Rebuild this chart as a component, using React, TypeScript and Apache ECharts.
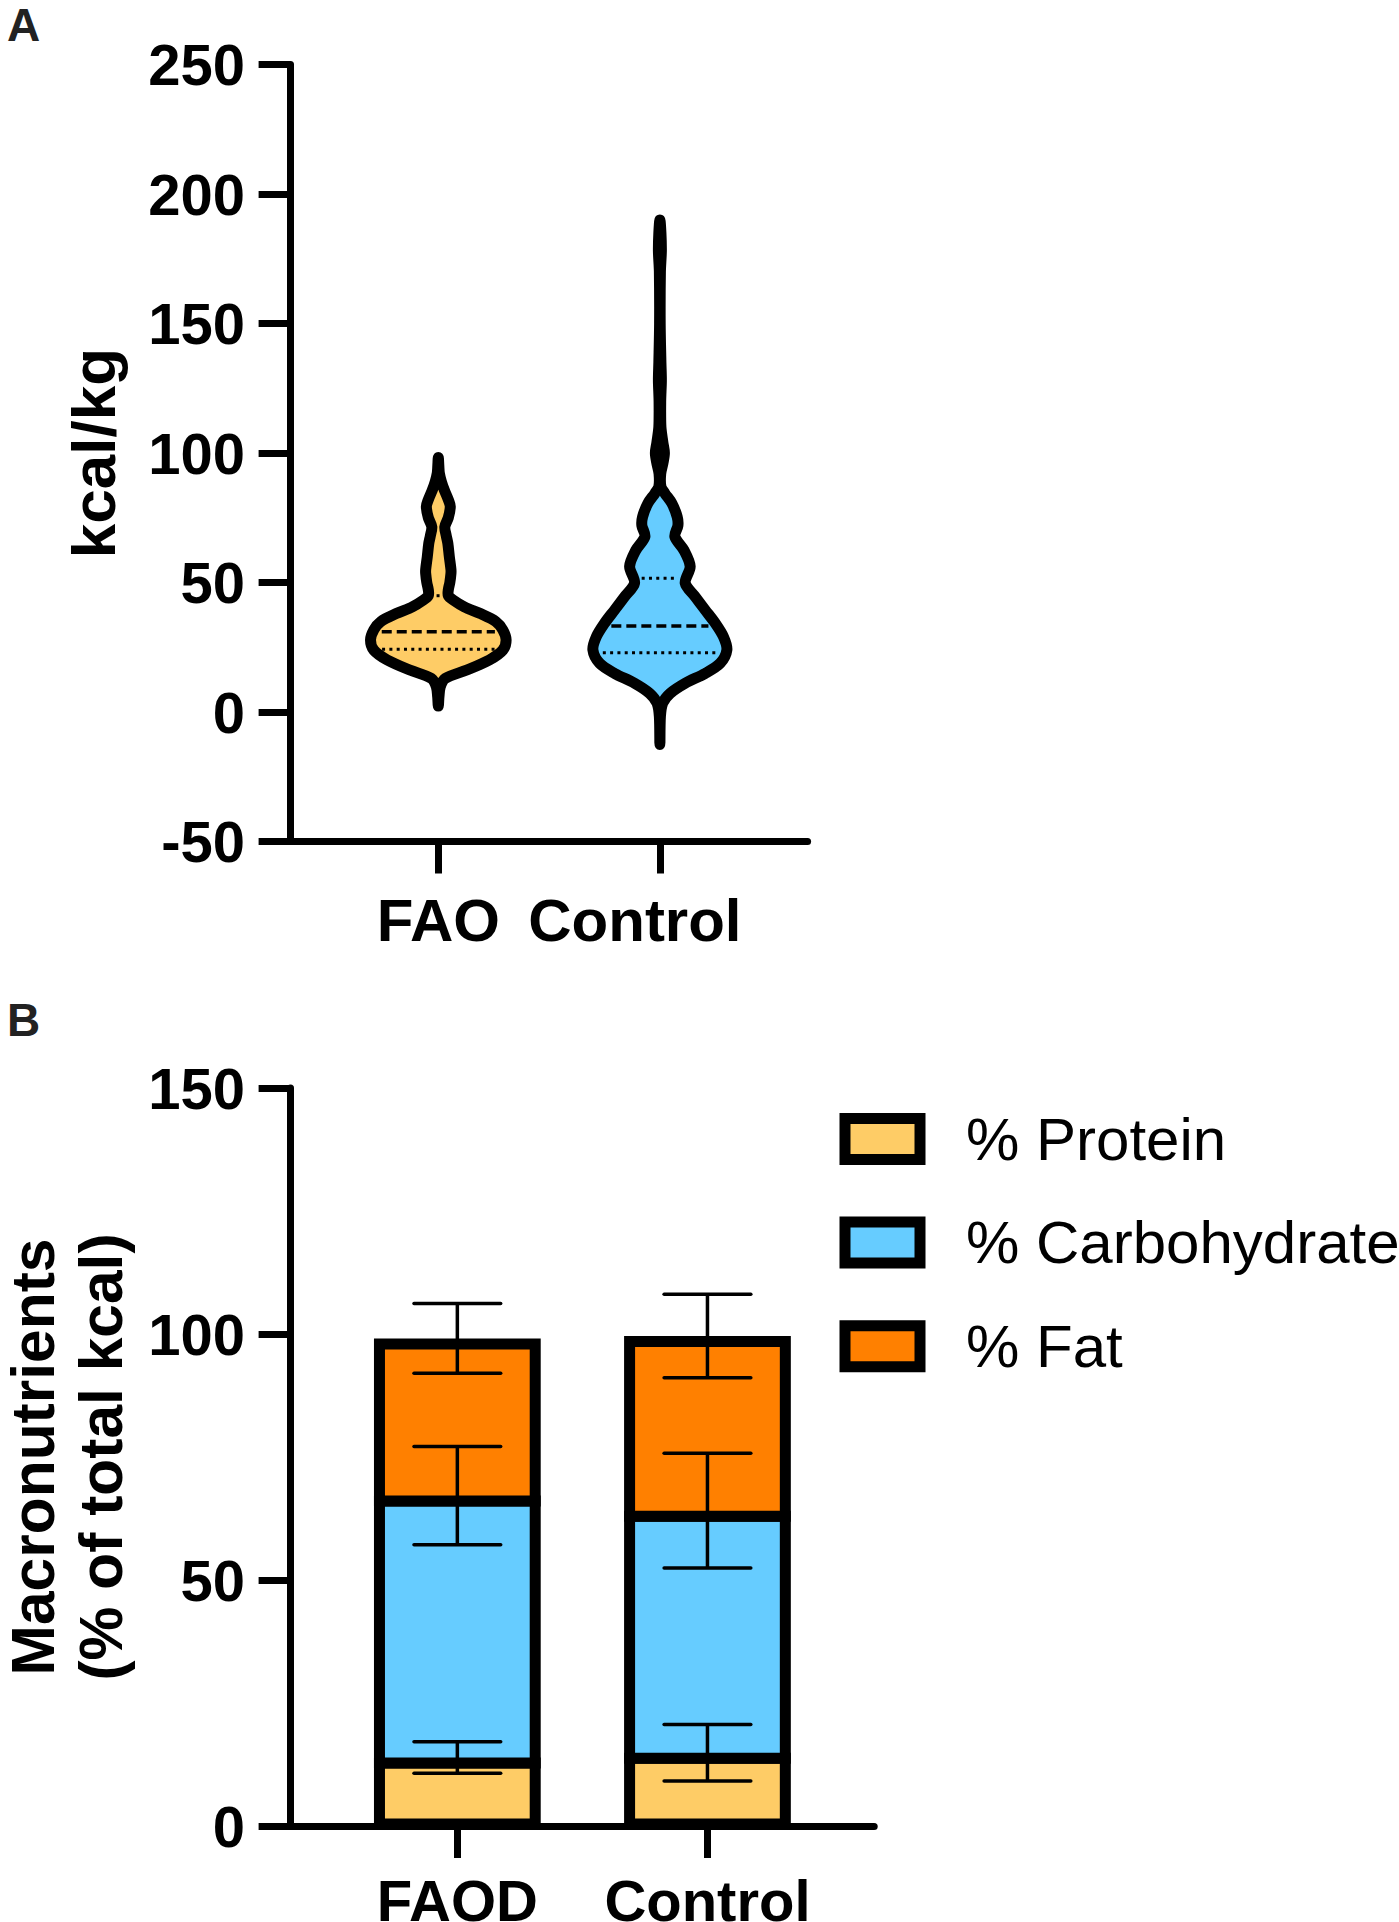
import React, { useEffect, useRef } from 'react';
import * as echarts from 'echarts';

// ---------------- Panel A: energy intake violins (kcal/kg) ----------------
const violinCategories = ['FAO', 'Control'];
// density outline read from top to bottom: value (kcal/kg) and half-width (x-axis units)
const faoOutlineValues = [98.3, 95, 92.2, 89, 85.7, 82, 79.3, 75, 71.5, 68, 65.1, 60, 55, 53.5, 50, 47.1, 45, 43.2, 40.6, 38, 34.9, 31.7, 27.8, 23.9, 20.1, 16.2, 13, 9.8, 6, 2.3];
const faoOutlineHalfWidths = [0, 0.07, 0.14, 0.41, 0.81, 1.35, 1.62, 1.35, 0.88, 1.08, 1.29, 1.49, 1.71, 1.71, 1.56, 1.35, 1.35, 2.03, 3.52, 5.69, 7.79, 8.73, 9.18, 8.73, 6.91, 3.86, 0.95, 0.27, 0.09, 0];
const controlOutlineValues = [190, 185, 178, 170, 150, 135, 128, 120, 110, 104, 100, 96, 92, 87, 84.4, 80.6, 75.4, 72, 67.7, 62.5, 56.2, 49.8, 44.5, 39.4, 34.3, 29.1, 24, 18.8, 14.9, 11.1, 7.2, 3.4, -1.8, -12.5];
const controlOutlineHalfWidths = [0, 0.14, 0.2, 0.07, 0.04, 0.14, 0.2, 0.11, 0.14, 0.41, 0.61, 0.41, 0.11, 0.14, 0.68, 1.62, 2.34, 2.44, 2.03, 3.25, 4.1, 3.43, 4.78, 6.13, 7.49, 8.6, 9.07, 8.16, 6.13, 3.43, 1.39, 0.38, 0.07, 0];
// Q1, median, Q3
const faoQuartiles = [24.2, 31.0, 44.9];
const controlQuartiles = [22.9, 33.2, 51.6];
const kcalTicks = [-50, 0, 50, 100, 150, 200, 250];

// ---------------- Panel B: macronutrient distribution (% of total kcal) ----------------
const macroCategories = ['FAOD', 'Control'];
const macroNames = ['% Protein', '% Carbohydrate', '% Fat'];
const proteinPct = [13.9, 14.9];
const proteinSd = [3.2, 5.75];
const carbPct = [53.25, 49.2];
const carbSd = [10.0, 11.65];
const fatPct = [31.95, 35.5];
const fatSd = [7.1, 8.5];
const macroTicks = [0, 50, 100, 150];

// ---------------- styles / layout ----------------
const FONT = '"Liberation Sans", Arial, Helvetica, sans-serif';
const BLACK = '#000000';
const YELLOW = '#FECC66';
const BLUE = '#66CCFF';
const ORANGE = '#FF8000';
const SLOT = [20, 50];
const X_MIN = 0;
const X_MAX = 70;
const AXIS_LW = 7;
const VIOLIN_LW = 11;
const BAR_LW = 11;
const ERR_LW = 3.5;
const BAR_HALF = 10;
const CAP_HALF = 5.2;

function interpHalfWidth(vals: number[], hws: number[], q: number) {
  for (let i = 0; i < vals.length - 1; i++) {
    if (vals[i] >= q && q >= vals[i + 1]) {
      const t = (vals[i] - q) / (vals[i] - vals[i + 1]);
      return hws[i] + t * (hws[i + 1] - hws[i]);
    }
  }
  return 0;
}

function makeViolin(vals: number[], hws: number[], quart: number[], fill: string) {
  return (params: any, api: any) => {
    const cx = api.value(0);
    const pts: number[][] = [];
    for (let i = 0; i < vals.length; i++) pts.push(api.coord([cx + hws[i], vals[i]]));
    for (let i = vals.length - 2; i >= 1; i--) pts.push(api.coord([cx - hws[i], vals[i]]));
    const children: any[] = [
      {
        type: 'polygon',
        shape: { points: pts, smooth: 0.3 },
        style: { fill, stroke: BLACK, lineWidth: VIOLIN_LW, lineJoin: 'round' },
        z2: 1,
      },
    ];
    quart.forEach((q, k) => {
      const hw = interpHalfWidth(vals, hws, q);
      const c = api.coord([cx, q]);
      const r = api.coord([cx + hw, q]);
      const half = Math.max(0, r[0] - c[0] - VIOLIN_LW / 2 - 3);
      children.push({
        type: 'line',
        shape: { x1: c[0] - half, y1: c[1], x2: c[0] + half, y2: c[1] },
        style: {
          stroke: BLACK,
          lineWidth: k === 1 ? 3.5 : 3,
          lineDash: k === 1 ? [10, 5] : [3, 4.3],
        },
        z2: 2,
      });
    });
    return { type: 'group', children };
  };
}

function makeSegment(fill: string) {
  return (params: any, api: any) => {
    const cx = api.value(0);
    const base = api.value(1);
    const top = api.value(2);
    const pL = api.coord([cx - BAR_HALF, top]);
    const pR = api.coord([cx + BAR_HALF, base]);
    const zeroY = api.coord([cx, 0])[1];
    const x1 = pL[0] + BAR_LW / 2;
    const x2 = pR[0] - BAR_LW / 2;
    const y1 = pL[1] + BAR_LW / 2;
    const y2 = base === 0 ? zeroY - 2 : pR[1] + BAR_LW / 2;
    return {
      type: 'rect',
      shape: { x: x1, y: y1, width: x2 - x1, height: y2 - y1 },
      style: { fill, stroke: BLACK, lineWidth: BAR_LW },
    };
  };
}

function renderErrorBar(params: any, api: any) {
  const cx = api.value(0);
  const m = api.value(1);
  const sd = api.value(2);
  const hi = api.coord([cx, m + sd]);
  const lo = api.coord([cx, m - sd]);
  const l = api.coord([cx - CAP_HALF, m])[0];
  const r = api.coord([cx + CAP_HALF, m])[0];
  const st = { stroke: BLACK, lineWidth: ERR_LW, lineCap: 'round' };
  return {
    type: 'group',
    children: [
      { type: 'line', shape: { x1: hi[0], y1: hi[1], x2: lo[0], y2: lo[1] }, style: { stroke: BLACK, lineWidth: ERR_LW } },
      { type: 'line', shape: { x1: l, y1: hi[1], x2: r, y2: hi[1] }, style: st },
      { type: 'line', shape: { x1: l, y1: lo[1], x2: r, y2: lo[1] }, style: st },
    ],
  };
}

const axisLineStyle = { color: BLACK, width: AXIS_LW };
const tickLabelStyle = { fontSize: 58, fontWeight: 'bold' as const, color: BLACK, fontFamily: FONT };
const catLabelStyleA = { fontSize: 60, fontWeight: 'bold' as const, color: BLACK, fontFamily: FONT };
const catLabelStyleB = { fontSize: 58, fontWeight: 'bold' as const, color: BLACK, fontFamily: FONT };

function buildOption() {
  const carbTop = carbPct.map((c, i) => proteinPct[i] + c);
  const fatTop = fatPct.map((f, i) => carbTop[i] + f);
  const errData: number[][] = [];
  SLOT.forEach((s, i) => {
    errData.push([s, proteinPct[i], proteinSd[i]]);
    errData.push([s, carbTop[i], carbSd[i]]);
    errData.push([s, fatTop[i], fatSd[i]]);
  });
  const macroColors = [YELLOW, BLUE, ORANGE];

  return {
    animation: false,
    textStyle: { fontFamily: FONT },
    graphic: [
      { type: 'text', left: 7, top: 2, style: { text: 'A', fontSize: 46, fontWeight: 'bold', fill: '#222', fontFamily: FONT } },
      { type: 'text', left: 7, top: 997, style: { text: 'B', fontSize: 46, fontWeight: 'bold', fill: '#222', fontFamily: FONT } },
    ],
    legend: {
      data: macroNames.map((n, i) => ({
        name: n,
        icon: 'rect',
        itemStyle: { color: macroColors[i], borderColor: BLACK, borderWidth: BAR_LW },
      })),
      orient: 'vertical',
      left: 839.5,
      top: 1109,
      itemWidth: 75,
      itemHeight: 41,
      itemGap: 43.6,
      padding: 0,
      selectedMode: false,
      textStyle: { fontSize: 60, color: BLACK, fontFamily: FONT, lineHeight: 60, padding: [0, 0, 0, 41] },
    },
    grid: [
      { left: 290.6, top: 64.5, width: 517, height: 777, containLabel: false, outerBoundsMode: 'none' },
      { left: 290.6, top: 1088, width: 583.6, height: 738, containLabel: false, outerBoundsMode: 'none' },
    ],
    xAxis: [
      {
        type: 'value',
        gridIndex: 0,
        min: X_MIN,
        max: X_MAX,
        axisLine: { show: true, onZero: false, lineStyle: axisLineStyle },
        axisTick: { show: true, length: 32, lineStyle: axisLineStyle, customValues: SLOT },
        splitLine: { show: false },
        axisLabel: {
          ...catLabelStyleA,
          margin: 49,
          customValues: SLOT,
          formatter: (v: number) => {
            const i = SLOT.indexOf(v);
            if (i < 0) return '';
            return i === 1 ? '{shift|' + violinCategories[i] + '}' : violinCategories[i];
          },
          rich: { shift: { ...catLabelStyleA, padding: [0, 50, 0, 0] } },
        },
      },
      {
        type: 'value',
        gridIndex: 1,
        min: X_MIN,
        max: X_MAX,
        axisLine: { show: true, onZero: false, lineStyle: axisLineStyle },
        axisTick: { show: true, length: 32, lineStyle: axisLineStyle, customValues: SLOT },
        splitLine: { show: false },
        axisLabel: {
          ...catLabelStyleB,
          margin: 45,
          customValues: SLOT,
          formatter: (v: number) => {
            const i = SLOT.indexOf(v);
            return i < 0 ? '' : macroCategories[i];
          },
        },
      },
    ],
    yAxis: [
      {
        type: 'value',
        gridIndex: 0,
        min: kcalTicks[0],
        max: kcalTicks[kcalTicks.length - 1],
        interval: kcalTicks[1] - kcalTicks[0],
        axisLine: { show: true, onZero: false, lineStyle: axisLineStyle },
        axisTick: { show: true, length: 32, lineStyle: axisLineStyle },
        splitLine: { show: false },
        axisLabel: { ...tickLabelStyle, margin: 45.5 },
        name: 'kcal/kg',
        nameLocation: 'middle',
        nameRotate: 90,
        nameGap: 166,
        nameTextStyle: { fontSize: 62, fontWeight: 'bold', color: BLACK, fontFamily: FONT, lineHeight: 62 },
      },
      {
        type: 'value',
        gridIndex: 1,
        min: macroTicks[0],
        max: macroTicks[macroTicks.length - 1],
        interval: macroTicks[1] - macroTicks[0],
        axisLine: { show: true, onZero: false, lineStyle: axisLineStyle },
        axisTick: { show: true, length: 32, lineStyle: axisLineStyle },
        splitLine: { show: false },
        axisLabel: { ...tickLabelStyle, margin: 45.5 },
        name: 'Macronutrients\n(% of total kcal)',
        nameLocation: 'middle',
        nameRotate: 90,
        nameGap: 156,
        nameTextStyle: { fontSize: 60.5, fontWeight: 'bold', color: BLACK, fontFamily: FONT, lineHeight: 68 },
      },
    ],
    series: [
      {
        type: 'custom',
        name: violinCategories[0],
        xAxisIndex: 0,
        yAxisIndex: 0,
        silent: true,
        clip: false,
        data: [[SLOT[0], faoQuartiles[1]]],
        renderItem: makeViolin(faoOutlineValues, faoOutlineHalfWidths, faoQuartiles, YELLOW),
      },
      {
        type: 'custom',
        name: violinCategories[1],
        xAxisIndex: 0,
        yAxisIndex: 0,
        silent: true,
        clip: false,
        data: [[SLOT[1], controlQuartiles[1]]],
        renderItem: makeViolin(controlOutlineValues, controlOutlineHalfWidths, controlQuartiles, BLUE),
      },
      {
        type: 'custom',
        name: macroNames[0],
        xAxisIndex: 1,
        yAxisIndex: 1,
        silent: true,
        itemStyle: { color: YELLOW },
        data: SLOT.map((s, i) => [s, 0, proteinPct[i]]),
        renderItem: makeSegment(YELLOW),
      },
      {
        type: 'custom',
        name: macroNames[1],
        xAxisIndex: 1,
        yAxisIndex: 1,
        silent: true,
        itemStyle: { color: BLUE },
        data: SLOT.map((s, i) => [s, proteinPct[i], carbTop[i]]),
        renderItem: makeSegment(BLUE),
      },
      {
        type: 'custom',
        name: macroNames[2],
        xAxisIndex: 1,
        yAxisIndex: 1,
        silent: true,
        itemStyle: { color: ORANGE },
        data: SLOT.map((s, i) => [s, carbTop[i], fatTop[i]]),
        renderItem: makeSegment(ORANGE),
      },
      {
        type: 'custom',
        name: 'SD',
        xAxisIndex: 1,
        yAxisIndex: 1,
        silent: true,
        z: 5,
        clip: false,
        data: errData,
        renderItem: renderErrorBar,
      },
    ],
  };
}

export default function App() {
  const ref = useRef<HTMLDivElement>(null);
  useEffect(() => {
    if (!ref.current) return;
    const chart = echarts.init(ref.current, null, { renderer: 'svg' });
    chart.setOption(buildOption() as any);
    return () => chart.dispose();
  }, []);
  return (
    <div
      ref={ref}
      style={{ position: 'absolute', left: 0, top: 0, width: 1399, height: 1922, background: '#ffffff' }}
    />
  );
}
